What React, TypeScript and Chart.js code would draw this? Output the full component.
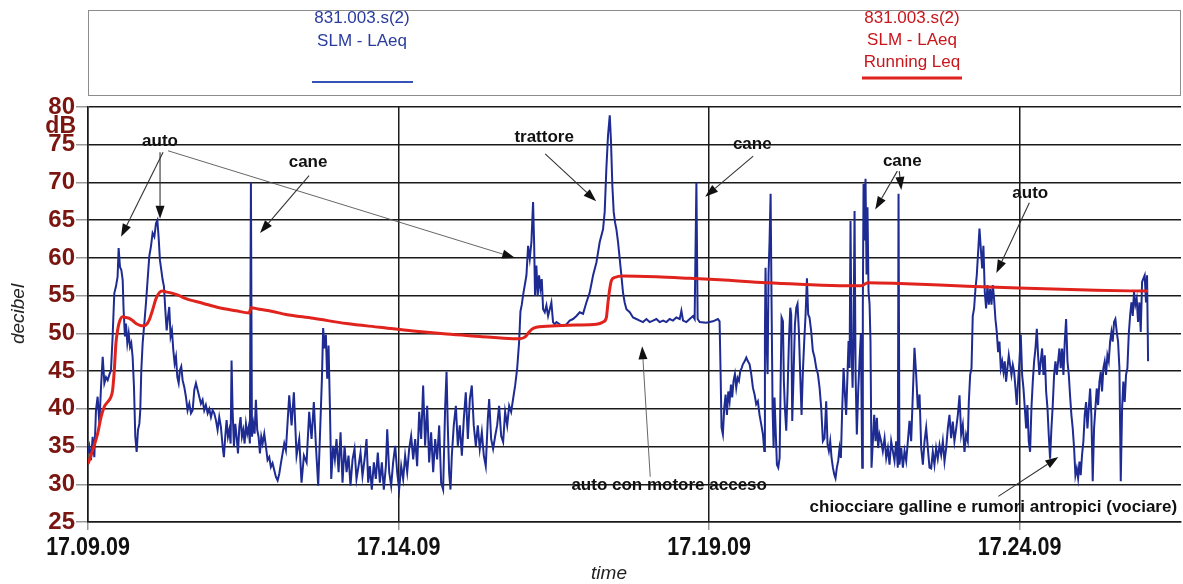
import React, { useEffect, useRef } from "react";
import { Chart, registerables } from "chart.js";

Chart.register(...registerables);

// ---------- DATA ----------
// time axis: seconds elapsed since 17.09.09
const tickTimes = [0, 300, 600, 900];
const timeTickLabels = ["17.09.09", "17.14.09", "17.19.09", "17.24.09"];
const timeMax = 1056;
const dbMin = 25;
const dbMax = 80;
const dbStep = 5;

// SLM - LAeq  [seconds, dB]
const laeqSegA: [number, number][] = [
  [0,34.1],[1.3,35],[2.9,33.2],[4.5,36.3],[6.1,33.6],[7.7,39.8],[9.3,41.6],[11.0,38],[12.6,43],[14.2,46.9],[15.8,43.4],[17.4,44.2],[19.0,43.8],[20.6,44.5],[22.2,45.1],[23.8,49.6],[25.4,55.3],[27.0,56.2],[28.6,57.5],[29.6,61.3],[30.9,58.8],[32.2,58.4],[33.5,57.1],[34.4,53.1],[35.7,49.6],[36.7,51.3],[38.0,48.7],[39.3,50],[40.6,48.2],[41.8,48.7],[43.1,46.9],[44.4,43],[45.7,36.3],[47.0,34.3],[48.3,37.2],[49.6,38],[50.5,39.8],[51.5,45.1],[52.8,48.7],[54.4,51.3],[56.0,54],[57.6,57.1],[59.2,60.2],[60.8,61.5],[62.4,63.3],[64.1,62.8],[65.7,64.6],[67.0,65],[68.2,62.8],[69.5,59.7],[70.8,58.4],[72.1,57.1],[73.4,56.2],[74.7,53.1],[76.0,50.4],[77.3,52.2],[78.5,53.5],[79.8,49.6],[81.1,50.4],[82.4,47.8],[83.7,46],[85.0,46.9],[86.3,44.2],[87.6,43.4],[88.8,45.1],[90.1,45.6],[91.4,43.8],[93.0,42.9],[94.6,41.6],[96.2,39.8],[97.9,40.7],[99.5,39.4],[101.1,39.8],[102.7,42.5],[104.3,43.4],[105.9,42.5],[107.5,41.6],[109.1,40.7],[110.7,41.2],[112.3,39.8],[113.9,40.5],[115.6,39.4],[117.2,40],[118.8,38.9],[120.4,39.8],[122.0,39.4],[123.6,38.5],[125.2,37.2],[126.8,38.9],[128.4,37.6],[130.1,35],[131.3,33.6],[132.6,36.3],[133.9,38.5],[135.2,36.3],[136.5,37.2],[137.8,35.4],[138.7,46.4],[139.7,39.8],[141.0,35],[142.3,38],[143.6,36.3],[144.9,34.1],[146.2,37.6],[147.4,38.9],[148.7,36.3],[150.0,37.2],[151.3,35.4],[152.6,38],[153.9,36.7],[155.2,37.6],[156.4,35.4],[157.4,70],[158.4,36.3],[159.7,38],[161.0,36.7],[162.2,41.2],[163.5,37.2],[164.8,36.3],[166.1,34.1],[167.4,36.3],[168.7,35.4],[170.3,36.7],[171.9,35],[173.5,33.2],[175.1,33.6],[176.7,32.3],[178.3,32.8],[179.9,31.9],[181.5,31],[183.2,30.5],[184.8,31.4],[186.4,32.8],[188.0,34.1],[189.6,35.4],[191.2,34.5],
];
const laeqSegB: [number, number][] = [
  [194.4,41.8],[196.7,37.8],[198.9,42.2],[201.5,33.8],[204.1,36],[206.3,30.2],[208.6,33.8],[211.2,32.9],[213.7,39.6],[216.0,36],[218.2,40.9],[220.2,35.1],[222.4,29.8],[224.0,36],[226.0,44],[227.2,50.7],[228.5,48],[229.8,49.8],[231.1,44],[232.4,48.4],[233.7,40.4],[235.0,30.7],[236.9,35.1],[238.5,33.3],[240.1,36],[242.1,31.6],[244.0,36.9],[245.9,30.2],[247.9,35.1],[249.8,31.6],[251.7,33.8],[253.6,29.8],[255.6,33.3],[257.5,34.7],[259.4,30.7],[261.4,32.4],[263.3,34.2],[265.2,31.1],[267.2,33.3],[269.1,36],[270.7,30.2],[272.3,32.4],[274.2,29.3],[276.2,32.9],[278.1,30.7],[280.0,34.2],[282.0,30.2],[283.9,32.9],[285.8,29.3],[287.8,32.4],[289.1,37.3],[291.0,31.6],[292.9,29.8],[294.8,32.9],[296.8,35.1],[298.7,31.6],[300.6,29.3],[302.6,32.4],[304.5,30.7],[306.4,33.8],[308.4,31.6],[310.3,34.7],[312.2,36.4],[314.2,33.3],[316.1,36],[318.0,32.4],[320.0,39.6],[321.9,36],[323.8,43.1],[325.7,35.1],[327.7,40.4],[329.6,32.9],[331.5,36.9],[333.5,31.6],[335.4,36],[337.3,33.3],[339.3,37.8],[341.2,30.2],[343.1,29.3],[345.1,40.4],[346.4,44.9],[347.6,37.8],[348.9,31.6],[350.2,29.3],[351.5,33.8],[353.4,37.8],[355.4,40.4],[357.3,35.1],[359.2,37.8],[361.2,33.8],[363.1,38.7],[365.0,42.2],[367.0,36],[368.9,41.3],[370.8,43.1],[372.7,37.8],[374.7,35.1],[376.6,37.8],[378.5,34.7],[380.5,36.9],[382.4,33.8],[384.3,32.4],[386.3,38.7],[387.6,41.3],[389.5,36],[391.4,34.7],[393.4,36.4],[395.3,37.8],[397.2,40.4],[399.2,36.4],[401.1,35.6],[403.0,39.6],[405.0,37.8],[406.9,40.4],[408.8,39.6],[410.7,41.3],[412.7,43.1],[414.6,45.3],[416.5,48.8],[417.8,52.9],[419.1,53.8],[420.4,55.1],
];
const laeqSegC: [number, number][] = [
  [423.6,57.7],[425.2,61.6],[426.8,59.9],[428.4,62.1],[430.0,67.4],[431.0,62.1],[431.9,55],[433.2,59],[434.5,55],[435.8,57.7],[437.1,55.9],[438.4,57.2],[439.7,53.2],[441.3,52.8],[442.9,53.7],[444.5,52.3],[446.1,53.2],[447.7,54.1],[449.3,51.5],[450.9,51.2],[452.6,51.5],[455.8,51.2],[459.0,51],[462.2,51.2],[465.4,51.7],[468.6,51.9],[471.9,52.3],[475.1,52.8],[478.3,52.6],[481.5,54.1],[484.7,55.4],[488.0,57.7],[491.2,59.4],[494.4,62.1],[497.6,63.8],[499.2,66.1],[500.8,71.8],[502.4,76.2],[504.1,78.9],[505.3,75.4],[506.6,69.6],[507.9,66.1],[509.2,64.7],[510.5,63.8],[512.1,62.1],[513.7,59.9],[515.3,57.7],[516.9,55.4],[518.5,54.1],[520.2,53.2],[523.4,52.8],[526.6,52.1],[529.8,51.9],[533.0,51.7],[536.2,51.5],[539.5,51.9],[542.7,51.5],[545.9,51.7],[549.1,51.9],[552.3,51.5],[555.6,51.7],[558.8,51.5],[562.0,51.9],[565.2,51.7],[568.4,52.1],[571.7,51.9],[573.3,53],[574.9,51.7],[578.1,51.5],[581.3,51.9],[584.5,52.3],[586.1,51.9],[587.8,70],[589.0,51.9],[591.0,51.5],
];
const laeqSegD: [number, number][] = [
  [597.3,51.4],[603.8,51.6],[608.6,51.9],[610.2,51.6],[611.2,44.6],[612.1,37.5],[613.4,36.6],[614.7,40.1],[616.0,41.9],[617.3,39.2],[618.6,42.3],[619.9,41],[621.2,43.2],[622.4,41.5],[623.7,43.7],[625.0,44.6],[626.3,42.8],[627.6,44.1],[628.9,43.7],[630.2,45],[631.5,45.4],[632.7,45.9],[634.4,46.3],[636.0,46.8],[637.6,46.3],[639.2,45.9],[640.8,44.6],[642.4,42.8],[644.0,41.9],[645.6,40.6],[647.2,41],[648.8,39.2],[650.5,37.9],[652.1,36.6],[653.4,34.4],[654.0,49.9],[654.6,58.7],[655.6,49],[656.6,44.6],[657.5,57.8],[658.5,62.3],[659.5,68.5],[660.4,54.3],[661.4,40.1],[662.4,34.8],[663.3,41.5],[664.3,37.5],[665.6,32.6],[666.9,32.2],[668.2,33.5],[669.1,42.8],[670.1,52.1],[671.4,51.6],[672.3,43.7],[673.3,40.1],[674.6,37.1],[675.9,42.3],[677.2,49],[678.5,53.4],[679.4,52.5],[680.4,38.4],[681.7,44.6],[683.0,51.2],[684.3,53.4],[685.5,53.9],[686.8,50.3],[688.1,44.6],[689.4,39.2],[690.7,45],[692.0,49],[693.3,52.5],[694.6,57.3],[695.8,52.5],[697.1,52.1],[698.7,50.3],[700.3,47.7],[702.0,46.8],[703.6,45.4],[705.2,44.6],[706.8,42.8],[708.4,40.1],[710.0,35.7],[711.6,36.1],[713.2,41],[714.5,35.3],[715.8,34.4],[717.1,35.7],[718.4,33.5],[719.7,32.2],[721.0,31.3],[722.2,30.8],[723.5,32.2],[724.8,33.1],[726.1,34.8],[727.4,33.5],[728.7,40.1],[730.0,45.4],[731.3,41.9],[732.5,39.2],[733.8,44.6],[734.8,49],[735.8,45.4],[736.7,64.9],[737.7,48.1],[738.7,42.8],[739.6,49],[740.6,66.2],[741.6,44.6],[742.8,36.6],[744.1,42.3],[745.4,46.3],[746.7,49.9],[748.0,32.2],[748.6,53.4],[749.3,69.8],[750.2,62.3],[751.2,70.5],[752.2,57.8],[753.1,66.7],[754.1,55.6],[755.1,53.9],[756.0,49],[757.0,32.2],[758.3,35.7],[759.6,39.2],[760.9,35.7],[762.2,38.8],[763.4,34.8],[764.7,36.6],[766.3,35.7],[767.9,34.4],[769.6,36.1],[771.2,33.5],[772.8,34.8],[774.4,32.6],[776.0,35.7],[777.6,34.4],[779.2,33.1],[780.8,35.7],[782.4,32.2],[783.1,68.5],[784.0,32.6],[785.7,34.8],[787.3,32.2],[788.9,34.4],[790.5,33.1],[792.1,35.7],[793.7,38.4],[795.3,35.7],[796.9,41.9],[798.5,48.1],[800.1,44.6],[801.7,40.1],[803.4,41.9],[805.0,34.8],[806.6,32.6],[808.2,35.7],[809.8,37.5],[811.4,34.8],[813.0,32.2],
];
const laeqSegE: [number, number][] = [
  [814.6,32.1],[816.2,34.3],[817.8,32.6],[819.4,34.8],[821.0,33.4],[822.7,35.2],[824.3,33.9],[825.9,35.7],[827.5,33],[829.1,34.8],[830.7,37.4],[832.3,39.2],[833.9,36.1],[835.5,38.3],[837.1,35.7],[838.8,37.4],[840.4,39.2],[842.0,41.8],[843.6,36.6],[845.2,37.9],[846.8,34.3],[848.4,36.6],[850.0,35.7],[851.0,40.9],[852.3,44.5],[853.6,45.4],[854.8,52.3],[856.1,53.3],[857.4,55.9],[858.7,57.7],[860.0,60.8],[861.3,63.9],[862.6,61.2],[863.9,58.6],[865.1,61.6],[866.4,55.5],[867.7,53.3],[869.0,56.4],[870.3,53.8],[871.6,55.9],[872.9,53.8],[874.2,56.4],[875.4,54.6],[876.7,51.9],[878.0,50.2],[879.3,47.5],[880.6,48.9],[881.9,45.4],[883.2,46.3],[884.5,44.9],[885.7,46.3],[887.0,43.6],[888.3,45.4],[889.6,47.1],[890.9,45.8],[892.2,44.5],[893.5,45.8],[894.8,44.9],[896.1,42.7],[897.3,40.5],[898.6,43.6],[899.9,46.3],[901.2,49.8],[902.5,44.5],[903.8,42.7],[905.1,40.1],[906.4,37.4],[907.6,40.5],[908.9,35.7],[910.2,34.3],[911.5,40.1],[912.8,43.6],[914.1,46.3],[915.4,48],[916.7,50.6],[917.9,47.1],[919.2,44.5],[920.5,46.3],[921.8,48],[923.1,44.5],[924.4,47.1],[925.7,42.3],[927.0,40.1],[928.2,36.6],[929.5,33.4],[930.8,37.4],[932.1,40.5],[933.4,44.5],[934.7,46.3],[936.0,44.5],[937.3,46.3],[938.5,48],[939.8,45.4],[941.1,48],[942.4,44.5],[943.7,48.9],[945.0,51.9],[946.3,46.3],[947.6,44.5],[948.8,41.8],[950.1,39.2],[951.4,37.4],[952.7,34.8],[954.0,31.2],[955.3,32.1],[956.6,30.8],[957.9,33],[959.1,31.2],[960.4,33.9],[961.7,35.7],[963.0,39.2],[964.3,40.9],[965.6,37.4],[966.9,40.1],[968.2,42.7],[969.4,39.2],[970.7,30.4],[972.0,37.4],[973.3,40.1],[974.6,42.7],[975.9,40.5],[977.2,43.6],[978.5,44.9],[979.7,42.3],[981.0,45.4],[982.3,46.3],[983.6,44.5],[984.9,47.1],[986.2,46.3],[987.5,48.9],[988.8,50.2],[990.0,48.9],[991.3,51.5],[992.6,51.9],[993.9,50.2],[995.2,48.9],[996.5,45.4],[997.8,30.4],[999.1,40.1],[1000.3,43.6],[1001.6,40.9],[1002.9,44.5],[1004.2,45.4],[1005.5,49.8],[1006.8,52.3],[1008.1,54.1],[1009.4,52.3],[1010.6,55.5],[1011.9,53.8],[1013.2,54.6],[1014.5,51.5],[1015.8,54.1],[1017.1,50.2],[1018.4,56.8],[1019.7,57.3],[1020.9,57.7],[1022.2,54.1],[1023.2,57.7],[1024.2,46.3],
];

// Running Leq [seconds, dB]
const runningLeq: [number, number][] = [
  [0,32.7],[4.5,34.5],[9.3,36.7],[12.6,38.9],[15.8,40.3],[19.0,40.9],[22.2,41.6],[23.8,42.5],[25.4,45.1],[27.0,48.7],[28.6,50.4],[30.3,51.5],[33.5,52.2],[36.7,52.1],[39.9,52],[43.1,51.7],[46.4,51.3],[49.6,51.1],[52.8,51],[56.0,51.1],[59.2,51.8],[62.4,53.1],[65.7,54.6],[68.9,55.4],[72.1,55.6],[75.3,55.5],[81.8,55.3],[88.2,55],[94.6,54.6],[110.7,54],[126.8,53.4],[142.9,53],[155.8,52.7],[157.4,53.4],[165.5,53.2],[178.3,52.9],[191.2,52.5],[217.6,52],[249.8,51.3],[282.0,50.8],[314.2,50.3],[346.4,49.9],[378.5,49.6],[410.7,49.3],[417.2,49.3],[422.0,49.5],[425.2,50.0],[428.4,50.5],[433.2,50.8],[452.6,51],[471.9,51.1],[491.2,51.2],[497.6,51.5],[500.8,52.1],[502.4,54.1],[504.1,55.9],[505.7,57],[508.9,57.4],[516.9,57.6],[549.1,57.5],[581.3,57.3],[610.3,57.1],[655.3,56.7],[687.5,56.5],[732.5,56.3],[747.0,56.3],[753.5,56.7],[784.0,56.6],[822.7,56.4],[899,56.0],[974,55.7],[1024.2,55.6],
];

const legendBlueLines = ["831.003.s(2)", "SLM - LAeq"];
const legendRedLines = ["831.003.s(2)", "SLM - LAeq", "Running Leq"];

// annotations: text at (time, dB), arrows from -> to in (time, dB)
type Arrow = { from: [number, number]; to: [number, number]; thin?: boolean };
const annotations: { text: string; at: [number, number]; arrows: Arrow[] }[] = [
  { text: "auto", at: [69.6, 75.5], arrows: [
    { from: [72.5, 74.0], to: [31.9, 62.8] },
    { from: [69.6, 74.0], to: [69.6, 65.2] },
    { from: [77.3, 74.2], to: [412.7, 60.0], thin: true },
  ] },
  { text: "cane", at: [212.6, 72.7], arrows: [{ from: [213.6, 70.9], to: [166.2, 63.3] }] },
  { text: "trattore", at: [440.7, 76.0], arrows: [{ from: [441.7, 73.8], to: [491.0, 67.5] }] },
  { text: "cane", at: [641.8, 75.1], arrows: [{ from: [642.7, 73.5], to: [596.3, 68.1] }] },
  { text: "cane", at: [786.7, 72.8], arrows: [
    { from: [781.9, 71.5], to: [760.6, 66.4] },
    { from: [783.8, 71.5], to: [785.8, 69.0] },
  ] },
  { text: "auto", at: [910.4, 68.5], arrows: [{ from: [909.5, 67.3], to: [877.6, 58.0] }] },
  { text: "auto con motore acceso", at: [561.5, 29.8], arrows: [{ from: [543.2, 31.0], to: [535.4, 48.3], thin: true }] },
  { text: "chiocciare galline e rumori antropici (vociare)", at: [874.7, 27.0], arrows: [{ from: [879.5, 28.4], to: [937.5, 33.6] }] },
];

// ---------- STYLE ----------
const SANS = "'Liberation Sans', Arial, Helvetica, sans-serif";
const BLUE = "#1d2b92";
const RED = "#e0231d";
const TICK_RED = "#7a1510";

const toXY = (arr: [number, number][]) => arr.map(([x, y]) => ({ x, y }));

export default function App() {
  const ref = useRef<HTMLCanvasElement | null>(null);
  useEffect(() => {
    if (!ref.current) return;
    const overlay = {
      id: "overlay",
      afterDraw(chart: any) {
        const { ctx } = chart;
        const xs = chart.scales.x;
        const ys = chart.scales.y;
        const area = chart.chartArea;
        ctx.save();
        // legend box
        ctx.strokeStyle = "#8c8c8c";
        ctx.lineWidth = 1;
        ctx.strokeRect(area.left + 0.5, 10.5, area.right - area.left - 1, 85);
        ctx.textAlign = "center";
        ctx.textBaseline = "middle";
        ctx.font = `17px ${SANS}`;
        ctx.fillStyle = "#2a3d9e";
        legendBlueLines.forEach((t, i) => ctx.fillText(t, 362, 18 + i * 23));
        ctx.strokeStyle = "#3552b8";
        ctx.lineWidth = 2;
        ctx.beginPath(); ctx.moveTo(312, 82); ctx.lineTo(413, 82); ctx.stroke();
        ctx.fillStyle = "#c8161c";
        legendRedLines.forEach((t, i) => ctx.fillText(t, 912, 18 + i * 22));
        ctx.strokeStyle = RED;
        ctx.lineWidth = 3;
        ctx.beginPath(); ctx.moveTo(862, 78); ctx.lineTo(962, 78); ctx.stroke();

        // x tick labels (condensed bold), placed by the x scale
        ctx.fillStyle = "#111";
        ctx.font = `bold 25px ${SANS}`;
        ctx.textAlign = "center";
        ctx.textBaseline = "middle";
        xs.ticks.forEach((t: any) => {
          const idx = tickTimes.indexOf(t.value);
          if (idx < 0) return;
          ctx.save();
          ctx.translate(xs.getPixelForValue(t.value), 548);
          ctx.scale(0.86, 1);
          ctx.fillText(timeTickLabels[idx], 0, 0);
          ctx.restore();
        });

        // dB unit label
        ctx.fillStyle = TICK_RED;
        ctx.font = `bold 23px ${SANS}`;
        ctx.textAlign = "right";
        ctx.fillText("dB", 76, 127);

        // axis titles
        ctx.fillStyle = "#222";
        ctx.font = `italic 19px ${SANS}`;
        ctx.textAlign = "center";
        ctx.fillText("time", 609, 574);
        ctx.save();
        ctx.translate(19, 314);
        ctx.rotate(-Math.PI / 2);
        ctx.fillText("decibel", 0, 0);
        ctx.restore();

        // annotations
        ctx.font = `bold 17px ${SANS}`;
        ctx.textAlign = "center";
        ctx.textBaseline = "middle";
        for (const a of annotations) {
          for (const ar of a.arrows) {
            const x1 = xs.getPixelForValue(ar.from[0]);
            const y1 = ys.getPixelForValue(ar.from[1]);
            const x2 = xs.getPixelForValue(ar.to[0]);
            const y2 = ys.getPixelForValue(ar.to[1]);
            const ang = Math.atan2(y2 - y1, x2 - x1);
            const hl = 13, hw = 4.5;
            const bx = x2 - hl * Math.cos(ang), by = y2 - hl * Math.sin(ang);
            ctx.strokeStyle = ar.thin ? "#555" : "#333";
            ctx.lineWidth = ar.thin ? 0.9 : 1.1;
            ctx.beginPath(); ctx.moveTo(x1, y1); ctx.lineTo(bx, by); ctx.stroke();
            ctx.fillStyle = "#111";
            ctx.beginPath();
            ctx.moveTo(x2, y2);
            ctx.lineTo(bx + hw * Math.sin(ang), by - hw * Math.cos(ang));
            ctx.lineTo(bx - hw * Math.sin(ang), by + hw * Math.cos(ang));
            ctx.closePath(); ctx.fill();
          }
          ctx.fillStyle = "#111";
          ctx.fillText(a.text, xs.getPixelForValue(a.at[0]), ys.getPixelForValue(a.at[1]));
        }
        ctx.restore();
      },
    };

    const chart = new Chart(ref.current, {
      type: "line",
      data: {
        datasets: [
          {
            label: "SLM - LAeq Running Leq",
            data: toXY(runningLeq),
            borderColor: RED,
            borderWidth: 3,
            pointRadius: 0,
            cubicInterpolationMode: "monotone",
            order: 0,
          },
          {
            label: "SLM - LAeq",
            data: toXY([...laeqSegA, ...laeqSegB, ...laeqSegC, ...laeqSegD, ...laeqSegE]),
            borderColor: BLUE,
            borderWidth: 2,
            pointRadius: 0,
            tension: 0,
            order: 1,
          },
        ],
      },
      options: {
        animation: false,
        responsive: false,
        maintainAspectRatio: false,
        devicePixelRatio: 1,
        layout: { padding: { top: 107, left: 0, right: 2, bottom: 0 } },
        plugins: { legend: { display: false }, tooltip: { enabled: false }, title: { display: false } },
        scales: {
          x: {
            type: "linear",
            min: 0,
            max: timeMax,
            afterBuildTicks: (s: any) => { s.ticks = tickTimes.map((v) => ({ value: v })); },
            afterFit: (s: any) => { s.height = 62; },
            ticks: {
              autoSkip: false,
              maxRotation: 0,
              padding: 4,
              color: "rgba(0,0,0,0)",
              font: { family: SANS, size: 22, weight: "bold" },
              callback: (v: any) => timeTickLabels[tickTimes.indexOf(Number(v))] ?? "",
            },
            grid: { color: "#1a1a1a", lineWidth: 1.5, tickLength: 8, tickColor: "#999", drawTicks: true },
            border: { display: true, color: "#1a1a1a", width: 1.5 },
          },
          y: {
            min: dbMin,
            max: dbMax,
            afterFit: (s: any) => { s.width = 88; },
            ticks: {
              stepSize: dbStep,
              padding: 1,
              color: TICK_RED,
              font: { family: SANS, size: 24, weight: "bold" },
            },
            grid: { color: "#1a1a1a", lineWidth: 1.5, tickLength: 12, tickColor: "#999" },
            border: { display: true, color: "#1a1a1a", width: 1.5 },
          },
        },
      },
      plugins: [overlay],
    } as any);
    return () => chart.destroy();
  }, []);

  return (
    <div style={{ position: "absolute", left: 0, top: 0, width: 1183, height: 584, background: "#fff" }}>
      <canvas ref={ref} width={1183} height={584} style={{ width: 1183, height: 584, display: "block" }} />
    </div>
  );
}
